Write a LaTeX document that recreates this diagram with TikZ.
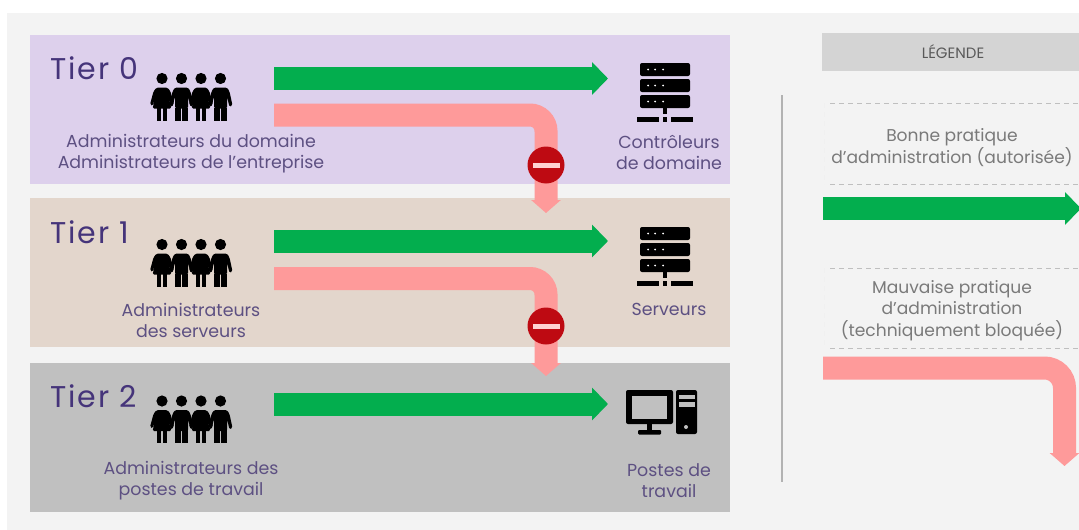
\documentclass[tikz,border=0pt]{standalone}
\usepackage{fontspec}
\setmainfont{Poppins}
\usetikzlibrary{arrows.meta}
\definecolor{bgc}{HTML}{F3F3F3}
\definecolor{lil}{HTML}{DDD0EC}
\definecolor{tan}{HTML}{E3D6CC}
\definecolor{grt}{HTML}{C0C0C0}
\definecolor{grn}{HTML}{03AE4E}
\definecolor{pnk}{HTML}{FE9A9A}
\definecolor{rdd}{HTML}{BE0A12}
\definecolor{ttl}{HTML}{45347A}
\definecolor{txp}{HTML}{5D5082}
\definecolor{txg}{HTML}{7A7A7A}
\tikzset{
  x=1pt,y=-1pt,
  tierbox/.style={rectangle,inner sep=0pt,minimum width=700pt,minimum height=149pt},
  tiertitle/.style={anchor=west,inner sep=0pt,text=ttl,font=\fontsize{30}{33}\selectfont\addfontfeature{LetterSpace=6}},
  lab/.style={align=center,inner sep=0pt,text=txp,font=\fontsize{17.4}{21.6}\selectfont},
  leglab/.style={align=center,inner sep=0pt,text=txg,font=\fontsize{17.1}{21.6}\selectfont},
  goodarrow/.style={draw=grn,line width=23pt,-{Triangle[length=16pt,width=32pt]}},
  badarrow/.style={draw=pnk,line width=23pt,rounded corners=16pt,-{Triangle[length=13pt,width=29pt]}},
  stopsign/.style={circle,fill=rdd,inner sep=0pt,minimum size=37pt},
  stopbar/.style={rectangle,fill=pink!70!white,inner sep=0pt,minimum width=27pt,minimum height=4.5pt},
  legdash/.style={draw=black!25,line width=.6pt,dash pattern=on 5pt off 4pt},
  legfaint/.style={draw=black!6,line width=.6pt,dash pattern=on 5pt off 4pt},
  female/.pic={
    \fill (0,0) circle (5.6);
    \fill[rounded corners=1.5pt] (-5.5,9) -- (5.5,9) -- (8.5,13) -- (12,26) -- (9.5,27.5) -- (6.5,19) -- (9.5,30) -- (-9.5,30) -- (-6.5,19) -- (-9.5,27.5) -- (-12,26) -- (-8.5,13) -- cycle;
    \fill (-5.4,29) rectangle (-1,42);
    \fill (1,29) rectangle (5.4,42);
  },
  male/.pic={
    \fill (0,0) circle (5.6);
    \fill[rounded corners=1.5pt] (-6.5,9) -- (6.5,9) -- (9,13) -- (12,27) -- (9,28.5) -- (6.5,18) -- (6.5,30) -- (-6.5,30) -- (-6.5,18) -- (-9,28.5) -- (-12,27) -- (-9,13) -- cycle;
    \fill (-6.5,29) rectangle (-0.8,42);
    \fill (0.8,29) rectangle (6.5,42);
  },
  people/.pic={
    \pic at (-29.5,0) {female};
    \pic at (-10,0) {male};
    \pic at (9.5,0) {female};
    \pic at (29,0) {male};
  },
  server/.pic={
    \foreach \t in {0,16,32}{
      \fill[rounded corners=2pt] (640,63+\t) rectangle (690,76+\t);
      \foreach \d in {648,655,663}{\fill[white] (\d,69.5+\t) circle (1);}
    }
    \fill (663,108) rectangle (667,114);
    \fill (637,117) rectangle (659,121.5);
    \fill (662.5,117) rectangle (667,121.5);
    \fill (671,117) rectangle (693,121.5);
  },
  desktop/.pic={
    \fill[rounded corners=2pt] (626,390) rectangle (673,424);
    \fill[grt] (632,395.5) rectangle (667,419);
    \fill (647,423) rectangle (652,431);
    \fill[rounded corners=1pt] (638,430) rectangle (661,434.5);
    \fill[rounded corners=2pt] (676,390) rectangle (697,434);
    \fill[grt] (678.5,394.5) rectangle (694.5,399);
    \fill[grt] (678.5,402) rectangle (694.5,406.5);
    \fill[grt] (686,427) circle (2);
  }
}
\begin{document}
\begin{tikzpicture}
\useasboundingbox (0,0) rectangle (1079,530);
\fill[white] (0,0) rectangle (1079,530);
\fill[bgc] (7,13) rectangle (1079,530);
% tiers
\node[tierbox,fill=lil] (t0) at (380,109.5) {};
\node[tierbox,fill=tan] (t1) at (380,272.5) {};
\node[tierbox,fill=grt] (t2) at (380,437.5) {};
\node[tiertitle] (n0) at (50.5,68) {Tier 0};
\node[tiertitle] (n1) at (50.5,232) {Tier 1};
\node[tiertitle] (n2) at (50.5,396) {Tier 2};
% people
\pic at (191.5,78.5) {people};
\pic at (191.5,244.5) {people};
\pic at (191.5,401) {people};
% machines
\pic at (0,0) {server};
\pic at (0,164) {server};
\pic at (0,0) {desktop};
% labels
\node[lab] (a0) at (191,153.5) {Administrateurs du domaine\\Administrateurs de l’entreprise};
\node[lab] (a1) at (191,320.5) {Administrateurs\\des serveurs};
\node[lab] (a2) at (191,480.5) {Administrateurs des\\postes de travail};
\node[lab] (m0) at (669,152.5) {Contrôleurs\\de domaine};
\node[lab] (m1) at (669,309.5) {Serveurs};
\node[lab] (m2) at (669,480.5) {Postes de\\travail};
% arrows
\coordinate (g0s) at (274,78.5); \coordinate (g0e) at (608,78.5);
\coordinate (g1s) at (274,241); \coordinate (g1e) at (608,241);
\coordinate (g2s) at (274,404); \coordinate (g2e) at (608,404);
\coordinate (p0s) at (274,115); \coordinate (p0e) at (546,213);
\coordinate (p1s) at (274,278.5); \coordinate (p1e) at (546,376);
\draw[goodarrow] (g0s) -- (g0e);
\draw[goodarrow] (g1s) -- (g1e);
\draw[goodarrow] (g2s) -- (g2e);
\draw[badarrow] (p0s) -| (p0e);
\draw[badarrow] (p1s) -| (p1e);
\node[stopsign] (s0) at (546,165) {};
\node[stopbar] (b0) at (546,165.5) {};
\node[stopsign] (s1) at (546,326) {};
\node[stopbar] (b1) at (546,326.5) {};
% legend
\coordinate (v0) at (782,95); \coordinate (v1) at (782,482);
\draw[black!30,line width=1.2pt] (v0) -- (v1);
\node[rectangle,fill=black!17,inner sep=0pt,minimum width=257pt,minimum height=38pt,
  font=\fontsize{15}{16}\selectfont,text=black!65] (lh) at (950.5,52) {\hspace{5pt}LÉGENDE};
\draw[legdash] (830,103) -- (1079,103);
\draw[legdash] (830,184) -- (1079,184);
\draw[legfaint] (824,103) -- (824,184);
\draw[legdash] (830,268) -- (1079,268);
\draw[legdash] (830,348) -- (1079,348);
\draw[legfaint] (824,268) -- (824,348);
\node[leglab] (l0) at (952,147.5) {Bonne pratique\\d’administration (autorisée)};
\node[leglab] (l1) at (952,310.5) {Mauvaise pratique\\d’administration\\(techniquement bloquée)};
\coordinate (lgs) at (823,208.5); \coordinate (lge) at (1081,208.5);
\coordinate (lps) at (823,368); \coordinate (lpe) at (1064.5,466);
\draw[goodarrow] (lgs) -- (lge);
\draw[badarrow,rounded corners=20pt] (lps) -| (lpe);
\end{tikzpicture}
\end{document}
